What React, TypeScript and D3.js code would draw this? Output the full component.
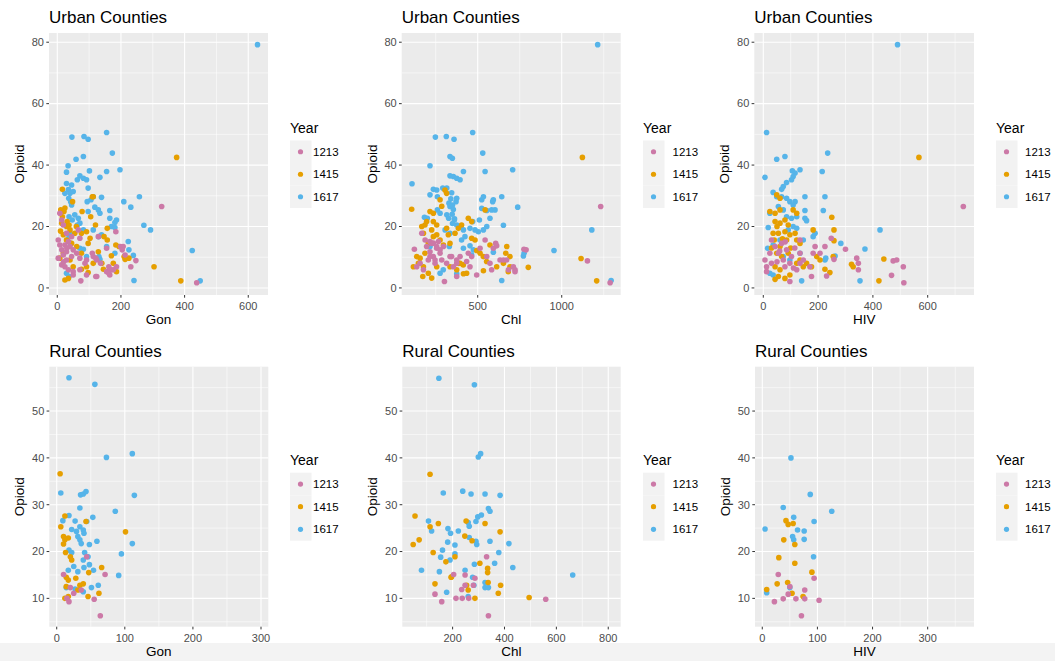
import React from 'react';
import * as d3 from 'd3';

type Pt = [number, number];

// ---------- legend ----------
const years = ['1213', '1415', '1617'];
const yearColors = ['#CC79A7', '#E69F00', '#56B4E9'];

// ---------- tick labels ----------
const urbanYTicks = [0, 20, 40, 60, 80];
const ruralYTicks = [10, 20, 30, 40, 50];
const urbanGonTicks = [0, 200, 400, 600];
const urbanChlTicks = [500, 1000];
const urbanHivTicks = [0, 200, 400, 600];
const ruralGonTicks = [0, 100, 200, 300];
const ruralChlTicks = [200, 400, 600, 800];
const ruralHivTicks = [0, 100, 200, 300];

// ---------- Urban: Gon vs Opioid ----------
const urbanGon1213: Pt[] = [
  [328, 26.5], [184, 18.3], [438, 1.7], [247, 8.9], [231, 6.9], [207, 13.5], [213, 10.7], [155, 12.9], [129, 16.7],
  [71, 16.2], [66, 18.9], [8, 24.3], [14, 22.1], [19, 20.5], [3, 15.6], [8, 14], [14, 12.4], [19, 10.7], [29, 9.1],
  [3, 9.7], [14, 7.5], [24, 6.9], [35, 5.9], [50, 5.3], [40, 13.5], [50, 12.4], [61, 11.3], [71, 9.7], [29, 11.8],
  [45, 10.2], [74, 2.3], [92, 4.2], [124, 3.7], [165, 4.2], [155, 5.3], [176, 5.9], [186, 6.9], [113, 10.2],
  [124, 9.1], [87, 8], [92, 9.1], [24, 14], [35, 15.1], [29, 17.8], [45, 16.7], [71, 5.9], [50, 4.2], [199, 13.5],
  [204, 12.4], [110, 11.3], [121, 9.7], [136, 8], [162, 6.9], [168, 5.9], [162, 4.8], [121, 3.7], [20, 8.5], [30, 13]
];
const urbanGon1415: Pt[] = [
  [375, 42.5], [16, 32.1], [113, 29.7], [11, 25.4], [21, 24.9], [48, 28.1], [16, 23.2], [31, 21.6], [37, 20.5],
  [78, 24.9], [105, 23.2], [110, 29.7], [14, 21.1], [29, 20], [40, 18.9], [157, 19.4], [55, 17.8], [76, 17.8],
  [92, 18.3], [147, 16.7], [157, 15.6], [103, 16.2], [97, 14.5], [184, 14], [194, 13.5], [19, 17.3], [29, 15.6],
  [45, 14.5], [61, 13.5], [76, 11.3], [129, 11.8], [210, 10.2], [225, 9.7], [213, 9.3], [140, 8], [113, 8], [92, 6.9],
  [76, 6.1], [145, 6.1], [304, 6.9], [388, 2.3], [24, 2.6], [35, 3.1], [50, 6.9], [8, 9.7], [19, 11.3], [40, 9.1],
  [176, 8], [97, 5], [186, 5.3], [24, 26], [60, 20], [120, 20.5], [10, 18.5], [170, 10.5]
];
const urbanGon1617: Pt[] = [
  [629, 79.2], [46, 49.1], [84, 49.3], [97, 48.4], [155, 50.6], [173, 43.9], [82, 42.8], [59, 41.9], [34, 39.8],
  [29, 37.7], [101, 38.1], [155, 37.9], [197, 38.5], [71, 36.5], [82, 35.7], [63, 35.2], [92, 35.2], [134, 36],
  [29, 34], [45, 33.5], [35, 32], [97, 32.5], [24, 30.8], [40, 30.8], [50, 31.4], [139, 29.5], [258, 29.7],
  [106, 28.7], [94, 28.1], [113, 29.7], [209, 28.1], [231, 26.3], [45, 27], [118, 26.3], [129, 25.4], [97, 24.9],
  [165, 25.2], [134, 24.3], [55, 23.8], [66, 22.7], [165, 22.7], [186, 22.1], [181, 21.3], [71, 21.1], [170, 20],
  [181, 19.7], [272, 20.4], [293, 18.9], [82, 18.9], [113, 18.9], [139, 17.3], [130, 16.7], [223, 15.1], [155, 13.5],
  [424, 12.2], [71, 12.9], [82, 12.6], [239, 10.6], [241, 2.4], [449, 2.3], [29, 4.8], [134, 9.3], [40, 17.8],
  [92, 10.2], [181, 11.3], [37, 23.2], [47, 22.1], [63, 20.5], [37, 16.7], [31, 15.6], [42, 14.5], [37, 3.7],
  [131, 10.2], [225, 12.4], [36, 29.2], [42, 28.1]
];

// ---------- Urban: Chl vs Opioid ----------
const urbanChl1213: Pt[] = [
  [1232, 26.5], [1153, 8.8], [1288, 1.7], [123, 12.6], [137, 6.9], [157, 8], [177, 5.9], [196, 13.5], [216, 11.8],
  [236, 10.2], [256, 12.9], [276, 11.3], [187, 15.6], [226, 14.5], [266, 15.1], [296, 13.5], [206, 9.1], [246, 8],
  [286, 9.1], [302, 2.1], [355, 6.9], [375, 9.1], [395, 10.2], [444, 11.3], [464, 10.2], [494, 4.2], [544, 15.6],
  [554, 10.2], [573, 8], [607, 14.5], [613, 13.7], [583, 5.9], [633, 9.1], [653, 9.1], [683, 5.9], [722, 5.9],
  [712, 6.9], [788, 12.4], [375, 3.7], [315, 8], [335, 10.2], [167, 17.8], [216, 15.1], [236, 14.6], [256, 13.5],
  [276, 12.4], [216, 10.2], [246, 9.1], [345, 10.2], [375, 8], [434, 8.6], [454, 6.9], [514, 12.9], [593, 12.9],
  [672, 9.1], [722, 5.3], [775, 12.6]
];
const urbanChl1415: Pt[] = [
  [1123, 42.5], [107, 25.6], [305, 31.9], [276, 28.7], [286, 26.6], [315, 30.8], [216, 24.9], [236, 24.3], [196, 21.6],
  [186, 20.5], [236, 21.6], [256, 20.5], [236, 16.7], [206, 14.6], [315, 19.4], [325, 17.3], [385, 19.4], [404, 20.5],
  [444, 22.7], [464, 21.6], [544, 25.4], [464, 16.2], [484, 15.6], [186, 11.3], [157, 9.7], [177, 6.9], [206, 4.8],
  [226, 3.2], [385, 8], [414, 7.5], [434, 4.8], [514, 11.3], [533, 10.2], [553, 8.6], [573, 14], [673, 13.5],
  [692, 10.2], [692, 6.9], [682, 5.3], [801, 6.7], [1115, 9.6], [1208, 2.3], [137, 10.2], [147, 8], [173, 3.7],
  [117, 6.9], [256, 6.9], [335, 6.9], [375, 5.9], [395, 8], [415, 4.6], [534, 5.6], [613, 6.9], [653, 8], [667, 11.3],
  [226, 18.9], [256, 17.3], [276, 15.6], [296, 14], [335, 14.5], [365, 17.8], [494, 12.2], [167, 20], [177, 17.8]
];
const urbanChl1617: Pt[] = [
  [1214, 79.2], [470, 50.6], [248, 49.1], [313, 49.3], [359, 48.4], [530, 43.9], [335, 42.8], [349, 42.2], [216, 39.8],
  [109, 33.9], [544, 37.9], [708, 38.5], [335, 36.5], [355, 36.3], [375, 35.7], [395, 35.2], [415, 37.9], [236, 32.1],
  [256, 31.9], [292, 32.5], [316, 32.5], [216, 30.3], [260, 29.7], [375, 29.2], [371, 28.1], [524, 28.7], [534, 29.7],
  [593, 28.7], [589, 28.1], [643, 29.7], [738, 26.3], [524, 25.9], [554, 25.2], [583, 25.4], [200, 22.7], [183, 23],
  [276, 24.3], [260, 25.4], [335, 26.5], [329, 27.6], [316, 23.8], [327, 22.7], [361, 22.1], [375, 20.5], [401, 20],
  [415, 18.9], [470, 21.6], [510, 22.1], [454, 19.4], [484, 18.9], [554, 20], [534, 18.9], [504, 18.3], [573, 22.7],
  [653, 20.4], [1179, 18.9], [954, 12.2], [776, 11.3], [772, 10.4], [306, 18.9], [335, 17.8], [415, 12.9],
  [216, 13.5], [276, 4.8], [375, 4.6], [643, 2.4], [1294, 2.4], [593, 11.6], [331, 13.5], [454, 13.7], [345, 31],
  [340, 29], [350, 27], [355, 25.5], [348, 24], [362, 22.5], [350, 21], [424, 16.7], [404, 15.6], [474, 12.4],
  [464, 10.7], [295, 5.9], [603, 25.4]
];

// ---------- Urban: HIV vs Opioid ----------
const urbanHiv1213: Pt[] = [
  [730, 26.5], [6, 9.1], [12, 5.3], [24, 11.3], [30, 15.6], [43, 13.5], [55, 11.3], [73, 9.1], [79, 6.9], [97, 8],
  [67, 14.5], [85, 12.4], [103, 10.2], [97, 2.1], [122, 5.9], [134, 8], [146, 9.1], [189, 13.5], [182, 11.3],
  [176, 3.7], [207, 11.3], [225, 13.5], [231, 3.9], [248, 16.2], [258, 9.3], [300, 12.6], [341, 9.7], [347, 8],
  [347, 5.9], [468, 4.1], [474, 8.8], [487, 9.1], [511, 6.9], [513, 1.7], [134, 15.6], [170, 6.9], [134, 11.3],
  [12, 6.9], [30, 8], [60, 12], [80, 15], [115, 13], [50, 8.5], [110, 6.5]
];
const urbanHiv1415: Pt[] = [
  [568, 42.5], [24, 24.9], [49, 30.3], [61, 29.2], [43, 24.3], [61, 25.4], [43, 21.6], [61, 21.1], [79, 22.1],
  [91, 20.5], [109, 25.4], [122, 24.3], [36, 17.8], [55, 17.8], [79, 18.3], [97, 17.3], [116, 17.8], [122, 15.6],
  [134, 14.5], [40, 15.6], [61, 13.5], [85, 15.6], [49, 11.3], [67, 10.2], [91, 11.3], [43, 6.9], [61, 5.9], [43, 2.8],
  [55, 3.7], [79, 3.1], [97, 4.2], [122, 8], [146, 6.9], [182, 18.9], [250, 23], [258, 18.9], [258, 15.4], [255, 10.2],
  [225, 6.1], [243, 5], [322, 7.7], [328, 6.9], [440, 9.4], [422, 2.3], [134, 9.1], [158, 8], [176, 6.9], [195, 10.2],
  [207, 9.1], [50, 20], [70, 16], [30, 13], [100, 13]
];
const urbanHiv1617: Pt[] = [
  [490, 79.2], [12, 50.6], [235, 43.9], [79, 42.8], [49, 41.9], [6, 36], [106, 38.1], [116, 37.4], [134, 38.5],
  [215, 37.9], [109, 36.3], [103, 35.2], [85, 34.3], [73, 33], [67, 32.1], [36, 31.1], [49, 29.7], [67, 29.7],
  [85, 29.2], [152, 29.7], [225, 29.7], [97, 28.1], [116, 28.1], [109, 27], [55, 26.5], [73, 25.4], [152, 25.2],
  [219, 25.2], [24, 24.3], [85, 23.2], [103, 22.7], [122, 23.2], [152, 22.7], [158, 21.9], [18, 19.7], [109, 20],
  [122, 19.4], [189, 17.8], [182, 16.7], [426, 18.9], [146, 15.6], [16, 12.9], [36, 14], [283, 14.5], [371, 12.7],
  [262, 10.4], [225, 9.1], [228, 9.7], [140, 2.3], [353, 2.3], [24, 4.8], [36, 4.2], [73, 10.2], [97, 9.1],
  [134, 11.3], [91, 18.9], [61, 15.6]
];

// ---------- Rural: Gon vs Opioid ----------
const ruralGon1213: Pt[] = [
  [10, 15.1], [20, 12.3], [18, 9.3], [25, 11.1], [44, 18.9], [55, 9.8], [64, 6.3], [71, 15.1], [36, 11.8], [15, 10]
];
const ruralGon1415: Pt[] = [
  [5, 36.6], [6, 25.3], [12, 27.6], [10, 23.2], [12, 22.5], [10, 21.6], [17, 22.9], [13, 19.8], [20, 18.9], [22, 18.2],
  [14, 14.5], [17, 13.9], [14, 12.5], [28, 14.3], [34, 12.8], [39, 13.1], [31, 11.8], [12, 10], [17, 10.4], [46, 10.4],
  [62, 11.1], [47, 15.5], [66, 16.6], [101, 24.2], [43, 26.4]
];
const ruralGon1617: Pt[] = [
  [18, 57.1], [56, 55.7], [73, 40.1], [111, 40.9], [114, 32], [6, 32.5], [35, 32.1], [39, 32.3], [43, 32.8], [34, 29.3],
  [86, 28.6], [53, 27.3], [18, 27.7], [9, 26.6], [27, 26.5], [44, 26.4], [34, 25.3], [39, 24.6], [40, 23.9], [22, 24.7],
  [29, 24.3], [31, 23.2], [34, 22.5], [36, 21.7], [48, 21.5], [59, 22.2], [111, 21.7], [18, 20.3], [22, 19.8],
  [41, 19.8], [46, 18.9], [39, 18.2], [48, 17.2], [95, 19.5], [25, 16.8], [17, 16], [54, 16], [40, 16.6], [31, 15.7],
  [91, 14.9], [14, 12.3], [51, 12.3], [61, 12.8], [39, 11.4], [27, 12]
];

// ---------- Rural: Chl vs Opioid ----------
const ruralChl1213: Pt[] = [
  [331, 18.9], [132, 10.9], [158, 9.3], [213, 10], [237, 10], [262, 10], [248, 15], [204, 15.1], [235, 11.9],
  [286, 14.3], [280, 12.8], [559, 9.8], [338, 6.3], [248, 12.8]
];
const ruralChl1415: Pt[] = [
  [113, 36.5], [55, 27.6], [48, 21.5], [71, 22.5], [113, 25.3], [145, 26], [125, 19.8], [174, 17.8], [196, 14.6],
  [209, 18.9], [247, 23.3], [252, 26.5], [275, 22.3], [325, 26], [305, 17.5], [383, 24.2], [335, 16.4], [335, 15.5],
  [337, 13.4], [376, 11.1], [385, 12.8], [132, 13.1], [254, 12.8], [260, 11.8], [286, 10], [495, 10.2], [194, 14.5]
];
const ruralChl1617: Pt[] = [
  [147, 57], [284, 55.6], [299, 40.2], [308, 40.9], [164, 32.5], [239, 32.9], [271, 32.3], [325, 32.3], [383, 32],
  [338, 29.2], [344, 28.6], [107, 26.5], [119, 24.4], [182, 24.9], [192, 23.9], [222, 24.4], [260, 26.2], [264, 25.4],
  [290, 26.4], [297, 27.4], [311, 27.8], [181, 22], [209, 21.4], [264, 23], [290, 22.2], [293, 21.5], [344, 22.2],
  [417, 21.7], [378, 19.8], [161, 20.3], [209, 19.5], [154, 18.8], [190, 18.2], [284, 17.3], [362, 17.5], [432, 16.6],
  [80, 16], [149, 15.7], [248, 16], [663, 15], [277, 14.5], [325, 13.4], [177, 11.3], [282, 12.8], [325, 12.3],
  [338, 12.3], [260, 10.4]
];

// ---------- Rural: HIV vs Opioid ----------
const ruralHiv1213: Pt[] = [
  [29, 15.1], [94, 14.3], [50, 12.5], [77, 11.8], [47, 10.9], [22, 9.3], [38, 9.9], [61, 9.9], [77, 9.9], [103, 9.6], [71, 6.3]
];
const ruralHiv1415: Pt[] = [
  [43, 26.6], [47, 25.8], [56, 26], [39, 22.5], [59, 21.5], [30, 18.7], [59, 17.5], [90, 15.6], [46, 13.4], [27, 13.1],
  [8, 11.9], [54, 11.1], [74, 10.4]
];
const ruralHiv1617: Pt[] = [
  [52, 40], [87, 32.2], [126, 28.6], [38, 29.4], [57, 27.3], [94, 26.4], [5, 24.8], [64, 24.6], [76, 24.4], [55, 23.2],
  [57, 22.5], [76, 22.6], [93, 18.9], [8, 11.2], [50, 12.3]
];

// ---------- layout ----------
const FONT = "'Liberation Sans', Arial, Helvetica, sans-serif";

interface Panel {
  title: string;
  xLabel: string;
  series: Pt[][];
  xTicks: number[];
  yTicks: number[];
  xDomain: [number, number];
  yDomain: [number, number];
  box: { l: number; r: number; t: number; b: number };
  titleY: number;
  legendX: number;
  labelX: number;
  legendTitleY: number;
  keyTop: number;
  keyStep: number;
}

const topRow = { t: 33, b: 295, titleY: 23, legendTitleY: 132.5, keyTop: 140.5, keyStep: 22.5, yDomain: [-2.3, 83] as [number, number] };
const botRow = { t: 366.7, b: 626.7, titleY: 356.5, legendTitleY: 465, keyTop: 472.7, keyStep: 22.65, yDomain: [3.95, 59.47] as [number, number] };

const panels: Panel[] = [
  { title: 'Urban Counties', xLabel: 'Gon', series: [urbanGon1213, urbanGon1415, urbanGon1617], xTicks: urbanGonTicks, yTicks: urbanYTicks,
    xDomain: [-26, 662], yDomain: topRow.yDomain, box: { l: 49, r: 268, t: topRow.t, b: topRow.b }, titleY: topRow.titleY,
    legendX: 290, labelX: 313, legendTitleY: topRow.legendTitleY, keyTop: topRow.keyTop, keyStep: topRow.keyStep },
  { title: 'Urban Counties', xLabel: 'Chl', series: [urbanChl1213, urbanChl1415, urbanChl1617], xTicks: urbanChlTicks, yTicks: urbanYTicks,
    xDomain: [47.6, 1351], yDomain: topRow.yDomain, box: { l: 401.7, r: 620.7, t: topRow.t, b: topRow.b }, titleY: topRow.titleY,
    legendX: 643, labelX: 672.5, legendTitleY: topRow.legendTitleY, keyTop: topRow.keyTop, keyStep: topRow.keyStep },
  { title: 'Urban Counties', xLabel: 'HIV', series: [urbanHiv1213, urbanHiv1415, urbanHiv1617], xTicks: urbanHivTicks, yTicks: urbanYTicks,
    xDomain: [-32.8, 769], yDomain: topRow.yDomain, box: { l: 754.3, r: 974, t: topRow.t, b: topRow.b }, titleY: topRow.titleY,
    legendX: 996, labelX: 1025, legendTitleY: topRow.legendTitleY, keyTop: topRow.keyTop, keyStep: topRow.keyStep },
  { title: 'Rural Counties', xLabel: 'Gon', series: [ruralGon1213, ruralGon1415, ruralGon1617], xTicks: ruralGonTicks, yTicks: ruralYTicks,
    xDomain: [-10.9, 310.7], yDomain: botRow.yDomain, box: { l: 49.3, r: 268.3, t: botRow.t, b: botRow.b }, titleY: botRow.titleY,
    legendX: 290, labelX: 313, legendTitleY: botRow.legendTitleY, keyTop: botRow.keyTop, keyStep: botRow.keyStep },
  { title: 'Rural Counties', xLabel: 'Chl', series: [ruralChl1213, ruralChl1415, ruralChl1617], xTicks: ruralChlTicks, yTicks: ruralYTicks,
    xDomain: [6, 848], yDomain: botRow.yDomain, box: { l: 402.3, r: 620.7, t: botRow.t, b: botRow.b }, titleY: botRow.titleY,
    legendX: 643, labelX: 672.5, legendTitleY: botRow.legendTitleY, keyTop: botRow.keyTop, keyStep: botRow.keyStep },
  { title: 'Rural Counties', xLabel: 'HIV', series: [ruralHiv1213, ruralHiv1415, ruralHiv1617], xTicks: ruralHivTicks, yTicks: ruralYTicks,
    xDomain: [-13.2, 384], yDomain: botRow.yDomain, box: { l: 755, r: 974, t: botRow.t, b: botRow.b }, titleY: botRow.titleY,
    legendX: 996, labelX: 1025, legendTitleY: botRow.legendTitleY, keyTop: botRow.keyTop, keyStep: botRow.keyStep },
];

function minorBreaks(major: number[], domain: [number, number]): number[] {
  const step = major.length > 1 ? major[1] - major[0] : 500;
  const out: number[] = [];
  const start = major[0] - step;
  const end = major[major.length - 1] + step;
  for (let v = start + step / 2; v <= end; v += step) {
    if (v >= domain[0] && v <= domain[1]) out.push(v);
  }
  return out;
}

const drawOrder = [2, 1, 0];
const R = 2.8;

const PanelView: React.FC<{ p: Panel }> = ({ p }) => {
  const x = d3.scaleLinear().domain(p.xDomain).range([p.box.l, p.box.r]);
  const y = d3.scaleLinear().domain(p.yDomain).range([p.box.b, p.box.t]);
  const xMinor = minorBreaks(p.xTicks, p.xDomain);
  const yMinor = minorBreaks(p.yTicks, p.yDomain);
  const cx = (p.box.l + p.box.r) / 2;
  const cy = (p.box.t + p.box.b) / 2;
  return (
    <g>
      <text x={p.box.l} y={p.titleY} fontSize={17} fill="#000">{p.title}</text>
      <rect x={p.box.l} y={p.box.t} width={p.box.r - p.box.l} height={p.box.b - p.box.t} fill="#EBEBEB" />
      {yMinor.map((v) => (
        <line key={'ym' + v} x1={p.box.l} x2={p.box.r} y1={y(v)} y2={y(v)} stroke="#fff" strokeWidth={0.55} />
      ))}
      {xMinor.map((v) => (
        <line key={'xm' + v} y1={p.box.t} y2={p.box.b} x1={x(v)} x2={x(v)} stroke="#fff" strokeWidth={0.55} />
      ))}
      {p.yTicks.map((v) => (
        <line key={'yM' + v} x1={p.box.l} x2={p.box.r} y1={y(v)} y2={y(v)} stroke="#fff" strokeWidth={1.1} />
      ))}
      {p.xTicks.map((v) => (
        <line key={'xM' + v} y1={p.box.t} y2={p.box.b} x1={x(v)} x2={x(v)} stroke="#fff" strokeWidth={1.1} />
      ))}
      {drawOrder.map((si) => (
        <g key={'s' + si}>
          {p.series[si].map((d, i) => (
            <circle key={i} cx={x(d[0])} cy={y(d[1])} r={R} fill={yearColors[si]} />
          ))}
        </g>
      ))}
      {p.yTicks.map((v) => (
        <g key={'yt' + v}>
          <line x1={p.box.l - 2.7} x2={p.box.l} y1={y(v)} y2={y(v)} stroke="#333" strokeWidth={1} />
          <text x={p.box.l - 5} y={y(v)} dy="0.35em" textAnchor="end" fontSize={11} fill="#4D4D4D">{v}</text>
        </g>
      ))}
      {p.xTicks.map((v) => (
        <g key={'xt' + v}>
          <line y1={p.box.b} y2={p.box.b + 2.7} x1={x(v)} x2={x(v)} stroke="#333" strokeWidth={1} />
          <text x={x(v)} y={p.box.b + 14.8} textAnchor="middle" fontSize={11} fill="#4D4D4D">{v}</text>
        </g>
      ))}
      <text x={cx} y={p.box.b + 29} textAnchor="middle" fontSize={13.5} fill="#000">{p.xLabel}</text>
      <text transform={`translate(${p.box.l - 25},${cy}) rotate(-90)`} textAnchor="middle" fontSize={13.5} fill="#000">Opioid</text>
      <text x={p.legendX} y={p.legendTitleY} fontSize={14} fill="#000">Year</text>
      {years.map((yr, i) => {
        const top = p.keyTop + i * p.keyStep;
        return (
          <g key={yr}>
            <rect x={p.legendX} y={top} width={21.5} height={p.keyStep} fill="#F2F2F2" />
            <circle cx={p.legendX + 10.5} cy={top + p.keyStep / 2} r={2.6} fill={yearColors[i]} />
            <text x={p.labelX} y={top + p.keyStep / 2} dy="0.35em" fontSize={11.5} fill="#000">{yr}</text>
          </g>
        );
      })}
    </g>
  );
};

export default function App() {
  return (
    <svg width={1055} height={661} style={{ position: 'absolute', left: 0, top: 0, fontFamily: FONT }}>
      <rect x={0} y={0} width={1055} height={661} fill="#fff" />
      <rect x={0} y={643} width={1055} height={18} fill="#F3F3F3" />
      {panels.map((p, i) => (
        <PanelView key={i} p={p} />
      ))}
    </svg>
  );
}
